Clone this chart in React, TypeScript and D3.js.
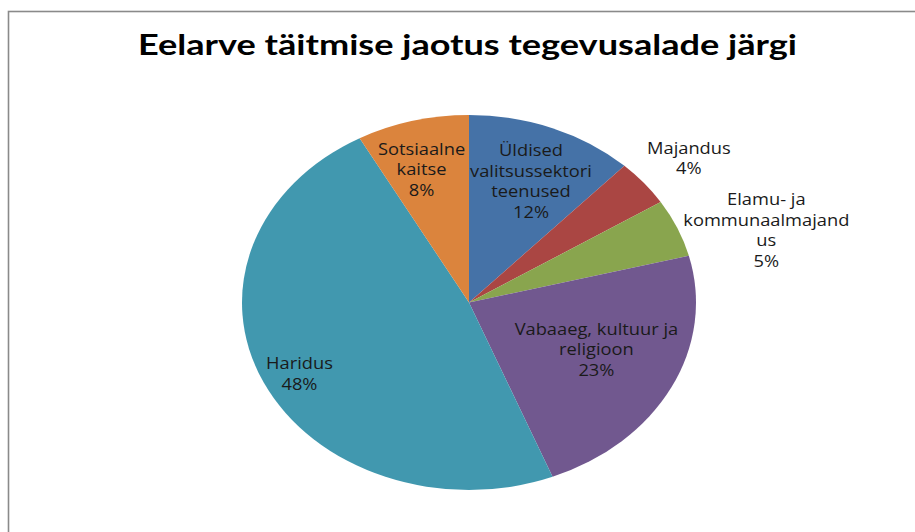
import React from "react";
import * as d3 from "d3";

const title = "Eelarve täitmise jaotus tegevusalade järgi";
const categories = [
  "Üldised valitsussektori teenused",
  "Majandus",
  "Elamu- ja kommunaalmajandus",
  "Vabaaeg, kultuur ja religioon",
  "Haridus",
  "Sotsiaalne kaitse",
];
const values = [12, 4, 5, 23, 48, 8];
const labelLines = [
  ["Üldised", "valitsussektori", "teenused"],
  ["Majandus"],
  ["Elamu- ja", "kommunaalmajand", "us"],
  ["Vabaaeg, kultuur ja", "religioon"],
  ["Haridus"],
  ["Sotsiaalne", "kaitse"],
];
const colors = ["#4572A7", "#AA4643", "#89A54E", "#71588F", "#4198AF", "#DB843D"];

// layout
const W = 915, H = 532;
const CX = 469, CY = 302.5, R = 187.5, SX = 227 / 187.5;
const labelRadius = [0.7, 1.24, 1.36, 0.615, 0.84, 0.74];
const labelNudge: [number, number][] = [[3.5, 1], [3, 4], [14, 29], [3, -5], [3, 4.5], [-5.7, 1.4]];
const LINE_H = 20.5;

export default function App() {
  const total = d3.sum(values);
  const pie = d3.pie<number>().sort(null).value((d) => d)(values);
  const arc = d3.arc<d3.PieArcDatum<number>>().innerRadius(0).outerRadius(R);

  return (
    <svg width={W} height={H} style={{ position: "absolute", left: 0, top: 0, background: "#fff" }}>
      <rect x={8.5} y={11.5} width={1200} height={1200} fill="#fff" stroke="#8a8a8a" strokeWidth={1.6} />
      <text
        x={467.5}
        y={55}
        textAnchor="middle"
        textLength={659}
        lengthAdjust="spacingAndGlyphs"
        style={{ fontFamily: "Lato, 'Open Sans', sans-serif", fontWeight: 700, fontSize: 29, fill: "#000" }}
      >
        {title}
      </text>
      <g transform={`translate(${CX},${CY}) scale(${SX},1)`}>
        {pie.map((p, i) => (
          <path key={categories[i]} d={arc(p) || ""} fill={colors[i]} />
        ))}
      </g>
      {pie.map((p, i) => {
        const mid = (p.startAngle + p.endAngle) / 2;
        const r = R * labelRadius[i];
        const x = CX + r * Math.sin(mid) * SX + labelNudge[i][0];
        const cy = CY - r * Math.cos(mid) + labelNudge[i][1];
        const lines = [...labelLines[i], `${Math.round((values[i] / total) * 100)}%`];
        const first = cy - ((lines.length - 1) * LINE_H) / 2 + 5.6;
        return (
          <g key={"l" + i}>
            {lines.map((t, j) => (
              <text
                key={j}
                transform={`translate(${x},${first + j * LINE_H}) scale(1.18,1)`}
                textAnchor="middle"
                style={{ fontFamily: "'Open Sans', sans-serif", fontSize: 15.5, fill: "#1a1a1a" }}
              >
                {t}
              </text>
            ))}
          </g>
        );
      })}
    </svg>
  );
}
